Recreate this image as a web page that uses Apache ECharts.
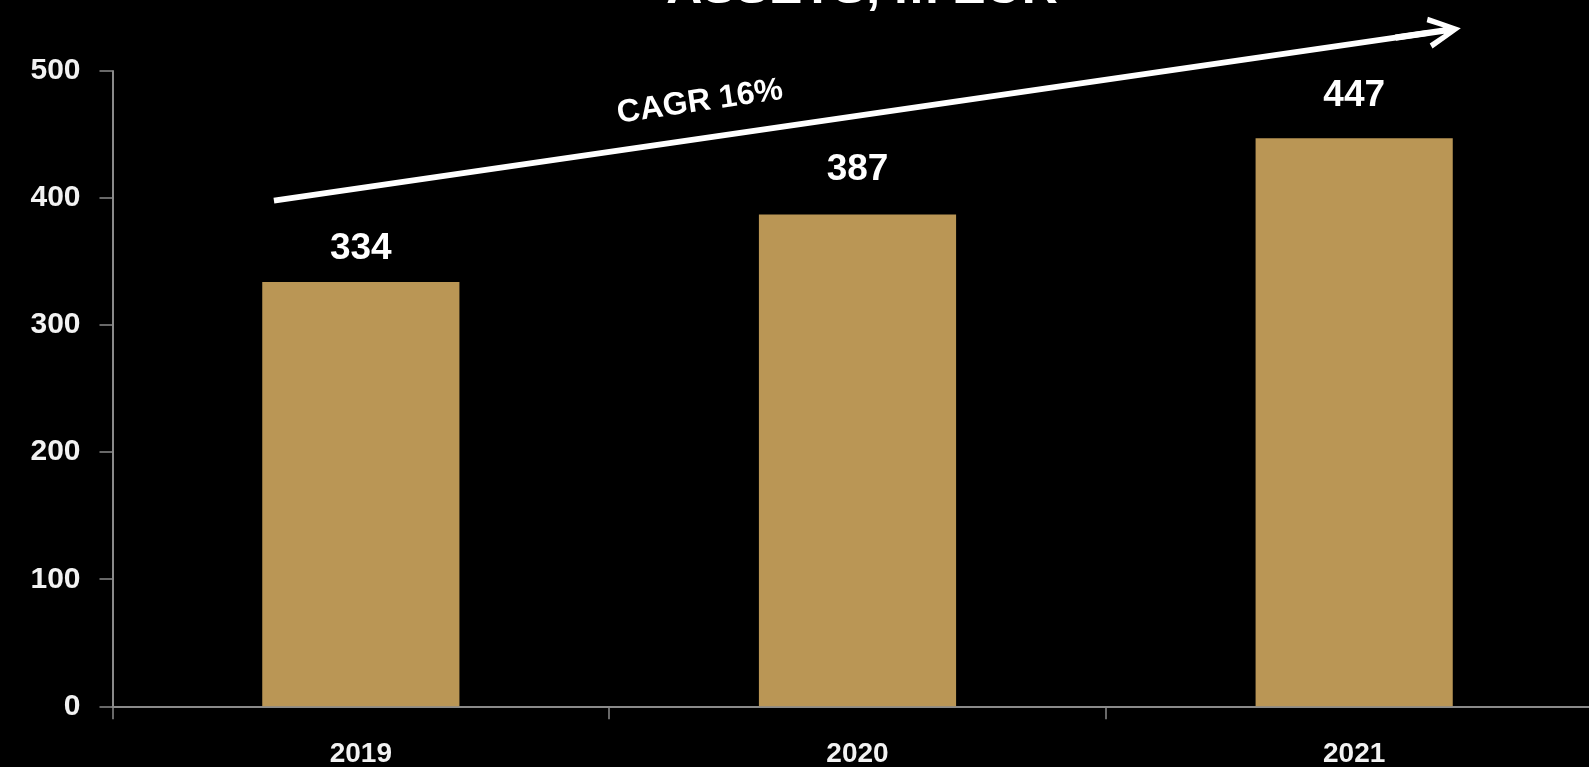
<!DOCTYPE html>
<html>
<head>
<meta charset="utf-8">
<script src="https://cdn.jsdelivr.net/npm/echarts@6/dist/echarts.min.js"></script>
<style>
html,body{margin:0;padding:0;background:#000;}
#chart{width:1589px;height:767px;}
</style>
</head>
<body>
<div id="chart"></div>
<script>
// ---- data ----
const categories = ['2019', '2020', '2021'];
const assets = [334, 387, 447];
const labelGaps = [15, 26.5, 24.5];
const yTicks = [0, 100, 200, 300, 400, 500];
const titleText = 'ASSETS, m EUR';
const cagrText = 'CAGR 16%';
// arrow annotation, in data space (x: category index, y: value)
const arrowStart = [-0.175, 398];
const arrowEnd = [2.149, 530];

const FONT = '"Liberation Sans", Arial, sans-serif';
const chart = echarts.init(document.getElementById('chart'), null, {renderer: 'canvas'});

// chevron head with a stem, centred so that the stem end sits on the line end
const arrowHead = 'path://M15,0 L30,30 L25,32 L18,16.6 L18,64 L12,64 L12,16.6 L5,32 L0,30 Z';

chart.setOption({
  backgroundColor: '#000000',
  animation: false,
  grid: {left: 112.5, top: 71, width: 1490, height: 635.3, containLabel: false, outerBoundsMode: 'none'},
  xAxis: [{
    type: 'category',
    data: categories,
    axisLine: {lineStyle: {color: '#8a8a8a', width: 2}},
    axisTick: {show: true, length: 13, alignWithLabel: false, lineStyle: {color: '#8a8a8a', width: 1.5}},
    axisLabel: {color: '#f2f2f2', fontFamily: FONT, fontWeight: 'bold', fontSize: 28, margin: 34},
    splitLine: {show: false}
  }, {
    type: 'value', min: -0.5, max: 2.5, show: false
  }],
  yAxis: {
    type: 'value',
    min: yTicks[0], max: yTicks[yTicks.length - 1], interval: 100,
    axisLine: {show: true, onZero: false, lineStyle: {color: '#8a8a8a', width: 2}},
    axisTick: {show: true, length: 13, lineStyle: {color: '#8a8a8a', width: 1.5}},
    axisLabel: {color: '#f2f2f2', fontFamily: FONT, fontWeight: 'bold', fontSize: 30, margin: 32},
    splitLine: {show: false}
  },
  series: [{
    type: 'bar',
    data: assets.map((v, i) => ({value: v, label: {distance: labelGaps[i]}})),
    barWidth: '39.7%',
    itemStyle: {color: '#ba9655'},
    label: {
      show: true, position: 'top',
      color: '#ffffff', fontFamily: FONT, fontWeight: 'bold', fontSize: 37
    }
  }, {
    type: 'line',
    xAxisIndex: 1,
    yAxisIndex: 0,
    clip: false,
    silent: true,
    lineStyle: {color: '#ffffff', width: 6},
    itemStyle: {color: '#ffffff'},
    data: [
      {value: arrowStart, symbol: 'none'},
      {value: arrowEnd, symbol: arrowHead, symbolSize: [32, 66], symbolRotate: -81.73}
    ]
  }],
  graphic: [{
    type: 'text',
    x: 862, y: 14,
    style: {text: titleText, fill: '#ffffff', font: 'bold 50px ' + FONT, align: 'center', verticalAlign: 'bottom'}
  }, {
    type: 'text',
    x: 700, y: 102,
    rotation: 8.27 * Math.PI / 180,
    style: {text: cagrText, fill: '#ffffff', font: 'bold 32px ' + FONT, align: 'center', verticalAlign: 'middle'}
  }]
});
</script>
</body>
</html>
